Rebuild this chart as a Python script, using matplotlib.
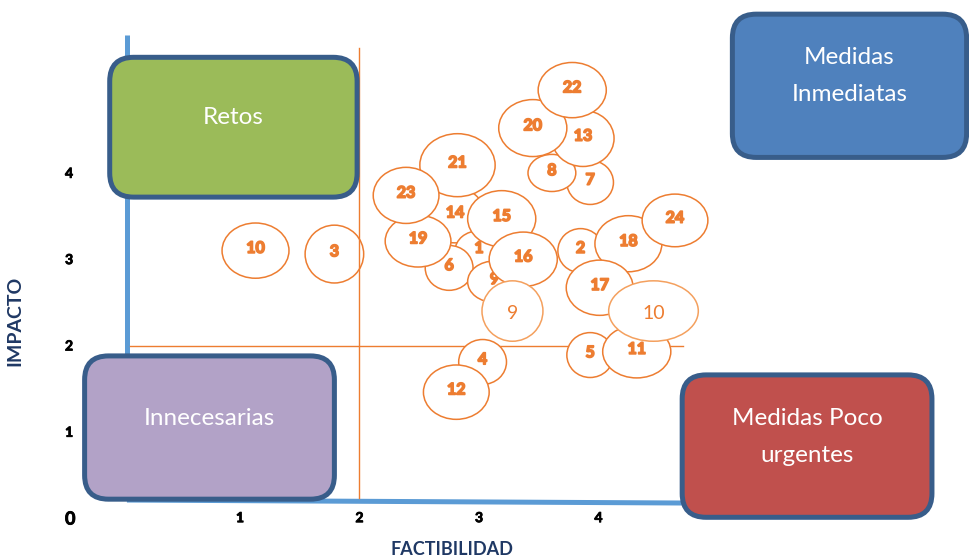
import matplotlib
matplotlib.use("Agg")
import matplotlib.pyplot as plt
import matplotlib.patheffects as pe
from matplotlib.patches import Ellipse, FancyBboxPatch

# bubble data, listed in stacking order (later ones sit on top)
labels = ['10', '3', '14', '1', '6', '21', '19', '23', '15', '9', '16', '9',
          '7', '8', '13', '20', '22', '2', '18', '24', '17', '5', '11', '10',
          '4', '12']
factibilidad = [1.13, 1.79, 2.80, 3.00, 2.75, 2.82, 2.49, 2.39, 3.19, 3.13, 3.37, 3.28,
                3.93, 3.61, 3.87, 3.45, 3.78, 3.85, 4.25, 4.64, 4.01, 3.93, 4.32, 4.46,
                3.03, 2.81]
impacto = [3.11, 3.07, 3.52, 3.11, 2.91, 4.10, 3.22, 3.75, 3.48, 2.75, 3.01, 2.41,
           3.90, 4.01, 4.41, 4.53, 4.97, 3.11, 3.19, 3.46, 2.68, 1.90, 1.94, 2.41,
           1.82, 1.47]
ancho = [0.56, 0.49, 0.50, 0.40, 0.40, 0.63, 0.55, 0.55, 0.57, 0.45, 0.57, 0.51,
         0.39, 0.40, 0.52, 0.57, 0.57, 0.38, 0.56, 0.55, 0.56, 0.39, 0.57, 0.75,
         0.40, 0.55]
alto = [0.64, 0.67, 0.64, 0.46, 0.52, 0.73, 0.60, 0.65, 0.65, 0.48, 0.63, 0.70,
        0.51, 0.43, 0.65, 0.66, 0.64, 0.51, 0.65, 0.61, 0.64, 0.52, 0.61, 0.70,
        0.52, 0.63]

ticks = [1, 2, 3, 4]
quadrants = ['Retos', 'Medidas\nInmediatas', 'Innecesarias', 'Medidas Poco\nurgentes']

orange = '#ED7D31'
navy = '#1F3864'
font = 'Lato'

fig = plt.figure(figsize=(9.69, 5.57), dpi=100)
ax = fig.add_axes([0, 0, 1, 1])
ax.set_xlim(-1.008, 7.10)
ax.set_ylim(-0.44, 6.014)
ax.axis('off')

# blue axes
ax.plot([0.054, 0.054], [5.61, 0.22], color='#5B9BD5', lw=3.6, zorder=1, solid_capstyle='butt')
ax.plot([0.054, 4.77], [0.22, 0.185], color='#5B9BD5', lw=3.6, zorder=1, solid_capstyle='butt')

# quadrant dividers
ax.plot([0.08, 4.71], [2, 2], color=orange, lw=1.0, zorder=1)
ax.plot([2, 2], [0.24, 5.46], color=orange, lw=1.0, zorder=50)

# bubbles
plain = {11, 23}
heavy = [pe.withStroke(linewidth=1.2, foreground=orange)]
for i, (lab, x, y, w, h) in enumerate(zip(labels, factibilidad, impacto, ancho, alto)):
    z = 2 + i
    light = i in plain
    ax.add_patch(Ellipse((x, y), w, h, facecolor='white',
                         edgecolor='#F4A05E' if light else orange, lw=1.1, zorder=z))
    if light:
        ax.text(x, y - 0.03, lab, color=orange, fontsize=14, family=font,
                ha='center', va='center', zorder=z + 0.5)
    else:
        ax.text(x, y + 0.02, lab, color=orange, fontsize=11.5, family=font, fontweight='bold',
                ha='center', va='center', zorder=z + 0.5, path_effects=heavy)

# quadrant boxes
boxes = [(-0.09, 3.73, 2.07, 1.62, '#9BBB59'),
         (5.12, 4.19, 1.96, 1.66, '#4F81BD'),
         (-0.30, 0.23, 2.09, 1.66, '#B2A2C7'),
         (4.70, 0.02, 2.09, 1.65, '#C0504D')]
text_y = [4.65, 5.13, 1.17, 0.95]
for (bx, by, bw, bh, col), name, ty in zip(boxes, quadrants, text_y):
    ax.add_patch(FancyBboxPatch((bx, by), bw, bh,
                                boxstyle='round,pad=0,rounding_size=0.2',
                                mutation_aspect=119.5 / 86.3,
                                facecolor=col, edgecolor='#385D8A', lw=3.6, zorder=60))
    ax.text(bx + bw / 2, ty, name, color='white', fontsize=17.5, family=font,
            ha='center', va='center', linespacing=1.92, zorder=61)

# tick labels
tick_fx = [pe.withStroke(linewidth=0.6, foreground='black')]
for t in ticks:
    ax.text(t, 0.01, str(t), fontsize=10, fontweight='bold', family=font,
            ha='center', va='center', path_effects=tick_fx)
    ax.text(-0.43, t, str(t), fontsize=10, fontweight='bold', family=font,
            ha='center', va='center', path_effects=tick_fx)
ax.text(-0.42, 0.0, '0', fontsize=13, fontweight='bold', family=font,
        ha='center', va='center', path_effects=tick_fx)

ax.text(2.77, -0.35, 'FACTIBILIDAD', color=navy, fontsize=13, fontweight='bold',
        family=font, ha='center', va='center')
ax.text(-0.885, 2.30, 'IMPACTO', color=navy, fontsize=14, fontweight='bold',
        family=font, ha='center', va='center', rotation=90)

fig.savefig('out.png', dpi=100)
plt.close(fig)
